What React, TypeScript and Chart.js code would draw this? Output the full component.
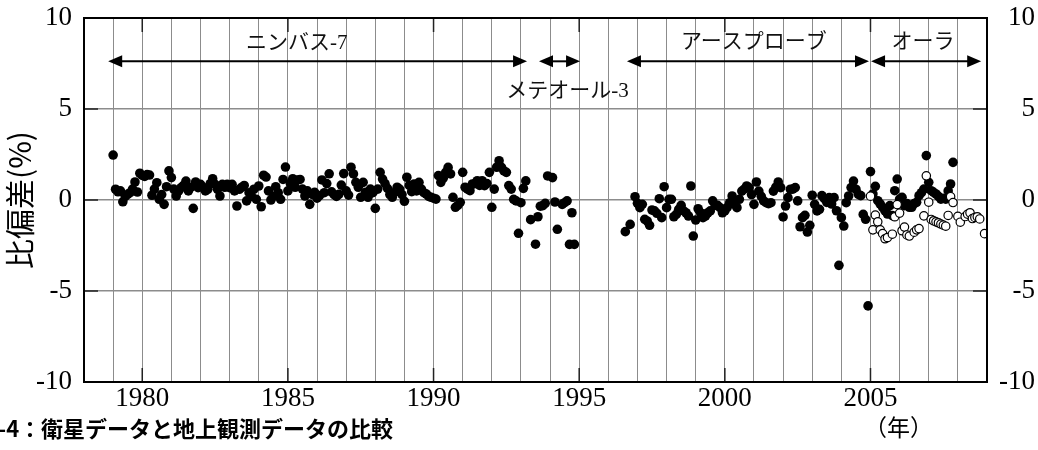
import React, { useEffect, useRef } from "react";
import { Chart, registerables } from "chart.js";

Chart.register(...registerables);

// ---- Data (monthly; null = no point) ----
const EARLY_START = 1979;
const filledEarly: (number | null)[] = [
  2.47, 0.59, 0.45, 0.5, -0.1, 0.2, 0.31, 0.4, 0.6, 0.99, 0.44, 1.47, // 1979
  1.35, 1.3, 1.4, 1.37, 0.26, 0.6, 0.95, 0.04, 0.3, -0.24, 0.73, 1.6, // 1980
  1.23, 0.6, 0.22, 0.5, 0.68, 0.8, 1.04, 0.5, 0.7, -0.46, 0.99, 0.68, // 1981
  0.86, 0.7, 0.5, 0.59, 0.9, 1.17, 0.86, 0.59, 0.22, 0.86, 0.7, 0.86, // 1982
  0.68, 0.86, 0.5, -0.33, 0.59, 0.7, 0.8, -0.05, 0.4, 0.2, 0.59, 0.04, // 1983
  0.77, -0.37, 1.36, 1.26, 0.5, 0, 0.2, 0.73, 0.4, 0.04, 1.13, 1.81, // 1984
  0.5, 0.9, 1.17, 0.7, 1.1, 1.13, 0.6, 0.22, 0.5, -0.24, 0.31, 0.42, // 1985
  0.1, 0.24, 1.1, 0.4, 0.9, 1.44, 0.45, 0.3, 0.2, 0.31, 0.82, 1.45, // 1986
  0.5, 0.27, 1.8, 1.43, 0.97, 0.7, 0.15, 0.97, 0.42, 0.15, 0.6, 0.4, // 1987
  -0.46, 0.6, 1.52, 1.15, 0.9, 0.64, 0.3, 0.15, 0.42, 0.7, 0.6, 0.3, // 1988
  -0.07, 1.25, 0.8, 0.46, 0.88, 0.5, 0.97, 0.6, 0.4, 0.33, 0.2, 0.15, // 1989
  0.1, 0.05, 1.34, 0.97, 1.2, 1.52, 1.79, 1.43, 0.15, -0.4, -0.3, -0.13, // 1990
  1.52, 0.7, 0.6, 0.51, 0.88, 0.9, 1.06, 0.8, 1.06, 0.79, 0.9, 1.52, // 1991
  -0.4, 0.6, 1.8, 2.16, 1.79, 1.6, 1.52, 0.79, 0.6, 0.04, -0.05, -1.83, // 1992
  -0.15, 0.64, 1.05, null, -1.08, null, -2.43, -0.92, -0.34, -0.31, -0.18, 1.32, // 1993
  null, 1.23, -0.11, -1.61, null, -0.24, -0.15, -0.05, -2.44, -0.7, -2.44, null, // 1994
];

const LATE_START = 1996;
const filledLate: (number | null)[] = [
  null, null, null, null, null, null, null, -1.74, null, -1.34, null, 0.18, // 1996
  -0.18, -0.42, -0.24, -1.06, -1.15, -1.39, -0.55, -0.6, -0.73, 0.07, -0.97, 0.73, // 1997
  -0.42, 0.04, 0.04, -0.92, -0.79, -0.51, -0.29, -0.6, -0.7, -0.88, 0.77, -1.98, // 1998
  -1.1, -0.48, -0.7, -0.97, -0.88, -0.7, -0.6, -0.05, -0.3, -0.29, -0.42, -0.7, // 1999
  -0.6, -0.4, -0.15, 0.22, -0.24, -0.42, 0.04, 0.49, 0.6, 0.77, 0.68, 0.3, // 2000
  -0.24, 0.99, 0.49, 0.2, -0.05, -0.15, -0.2, -0.15, 0.49, 0.7, 0.99, 0.68, // 2001
  -0.93, -0.33, 0.13, 0.59, 0.6, 0.68, -0.05, -1.47, -0.97, -0.84, -1.76, -1.39, // 2002
  0.26, -0.24, -0.6, -0.51, 0.24, 0.07, -0.13, 0.13, -0.22, 0.13, -0.59, -3.59, // 2003
  -0.97, -1.43, -0.15, 0.22, 0.68, 1.04, 0.59, 0.31, 0.24, -0.79, -1.06, -5.82, // 2004
  1.56, 0.33, 0.75, -0.04, -0.22, -0.4, -0.6, -0.77, -0.31, -0.86, 0.51, 1.15, // 2005
  0.05, 0.15, -0.31, -0.2, -0.4, -0.4, -0.2, -0.13, 0.24, 0.4, 0.6, 2.44, // 2006
  0.97, 0.51, 0.42, 0.33, 0.2, 0.05, 0.1, 0.05, 0.5, 0.88, 2.07, null, // 2007
];

const OPEN_START = 2005;
const openValues: (number | null)[] = [
  0.21, -1.64, -0.83, -1.2, -1.64, -1.85, -2.13, -2.06, null, -1.88, -0.92, -0.25, // 2005
  -0.72, -1.69, -1.49, -1.92, -1.98, null, -1.77, -1.64, -1.57, null, -0.87, 1.33, // 2006
  -0.12, -1.07, -1.14, -1.2, -1.25, -1.32, -1.38, -1.44, -0.85, 0.18, -0.14, null, // 2007
  -0.9, -1.22, null, -0.91, -0.78, -0.7, -1.02, -0.96, -0.92, -1.04, null, -1.85, // 2008
];

const xLabelYears = [1980, 1985, 1990, 1995, 2000, 2005];
const yMajor = [-5, 0, 5];

// satellite periods (years) and label anchors (year, value)
const satNames = ["ニンバス-7", "メテオール-3", "アースプローブ", "オーラ"];
const satFrom = [1978.83, 1993.62, 1996.64, 2005.02];
const satTo = [1993.21, 1995.03, 2004.95, 2008.8];
const satLabelX = [1985.3, 1994.6, 2001.0, 2006.8];
const satLabelY = [8.6, 5.95, 8.65, 8.65];
const ARROW_VALUE = 7.62;

function toPoints(start: number, values: (number | null)[]) {
  const pts: { x: number; y: number }[] = [];
  values.forEach((v, i) => {
    if (v !== null) pts.push({ x: start + i / 12, y: v });
  });
  return pts;
}

const overlayPlugin = {
  id: "overlay",
  afterDatasetsDraw(chart: any) {
    const { ctx, chartArea: a, scales } = chart;
    const xs = scales.x;
    const ys = scales.y;
    ctx.save();
    // inner major tick marks
    ctx.strokeStyle = "#222";
    ctx.lineWidth = 1.5;
    const tl = 14;
    xLabelYears.forEach((yr) => {
      const px = xs.getPixelForValue(yr);
      ctx.beginPath();
      ctx.moveTo(px, a.top);
      ctx.lineTo(px, a.top + tl);
      ctx.moveTo(px, a.bottom);
      ctx.lineTo(px, a.bottom - tl);
      ctx.stroke();
    });
    yMajor.forEach((v) => {
      const py = ys.getPixelForValue(v);
      ctx.beginPath();
      ctx.moveTo(a.left, py);
      ctx.lineTo(a.left + tl, py);
      ctx.moveTo(a.right, py);
      ctx.lineTo(a.right - tl, py);
      ctx.stroke();
    });
    // frame
    ctx.strokeStyle = "#000";
    ctx.lineWidth = 2;
    ctx.strokeRect(a.left, a.top, a.right - a.left, a.bottom - a.top);

    // arrows
    const py = ys.getPixelForValue(ARROW_VALUE);
    const head = 14;
    const half = 6;
    ctx.fillStyle = "#000";
    satNames.forEach((_, i) => {
      const x1 = xs.getPixelForValue(satFrom[i]);
      const x2 = xs.getPixelForValue(satTo[i]);
      ctx.beginPath();
      ctx.lineWidth = 2;
      ctx.moveTo(x1 + head - 1, py);
      ctx.lineTo(x2 - head + 1, py);
      ctx.stroke();
      ctx.beginPath();
      ctx.moveTo(x1, py);
      ctx.lineTo(x1 + head, py - half);
      ctx.lineTo(x1 + head, py + half);
      ctx.closePath();
      ctx.fill();
      ctx.beginPath();
      ctx.moveTo(x2, py);
      ctx.lineTo(x2 - head, py - half);
      ctx.lineTo(x2 - head, py + half);
      ctx.closePath();
      ctx.fill();
    });
    // labels
    ctx.font = '21px "Liberation Serif", "Noto Sans CJK JP"';
    ctx.fillStyle = "#111";
    ctx.textAlign = "center";
    ctx.textBaseline = "middle";
    satNames.forEach((name, i) => {
      ctx.fillText(name, xs.getPixelForValue(satLabelX[i]), ys.getPixelForValue(satLabelY[i]));
    });
    ctx.restore();
  },
};

const tickFont = { family: "'Liberation Serif', serif", size: 27 };
const gridGray = "#8c8c8c";

const noVerticalPadding = (s: any) => {
  s.paddingTop = 0;
  s.paddingBottom = 0;
};

export default function App() {
  const ref = useRef<HTMLCanvasElement | null>(null);

  useEffect(() => {
    if (!ref.current) return;
    const chart = new Chart(ref.current, {
      type: "scatter",
      data: {
        datasets: [
          {
            label: "open",
            data: toPoints(OPEN_START, openValues),
            pointRadius: 4.2,
            pointBackgroundColor: "#fff",
            pointBorderColor: "#000",
            pointBorderWidth: 1.2,
          },
          {
            label: "filled-late",
            data: toPoints(LATE_START, filledLate),
            pointRadius: 4.8,
            pointBackgroundColor: "#000",
            pointBorderColor: "#000",
            pointBorderWidth: 0,
          },
          {
            label: "filled-early",
            data: toPoints(EARLY_START, filledEarly),
            pointRadius: 4.8,
            pointBackgroundColor: "#000",
            pointBorderColor: "#000",
            pointBorderWidth: 0,
          },
        ],
      },
      options: {
        animation: false,
        responsive: false,
        devicePixelRatio: 1,
        layout: { padding: { top: 18, right: 3, left: 0, bottom: 0 } },
        plugins: { legend: { display: false }, tooltip: { enabled: false } },
        scales: {
          x: {
            type: "linear",
            min: 1978,
            max: 2009,
            ticks: {
              stepSize: 1,
              maxTicksLimit: 100,
              autoSkip: false,
              maxRotation: 0,
              minRotation: 0,
              padding: 1,
              font: tickFont,
              color: "#000",
              callback: (v: any) => (xLabelYears.includes(Number(v)) ? String(v) : ""),
            },
            grid: {
              drawTicks: false,
              lineWidth: 1,
              color: (c: any) =>
                c.tick && (c.tick.value === 1978 || c.tick.value === 2009) ? "rgba(0,0,0,0)" : gridGray,
            },
            border: { display: false },
            afterFit: (s: any) => {
              s.height = 68;
              s.paddingLeft = 0;
              s.paddingRight = 0;
            },
          },
          y: {
            type: "linear",
            position: "left",
            min: -10,
            max: 10,
            ticks: {
              stepSize: 5,
              padding: 12,
              font: tickFont,
              color: "#000",
              callback: (v: any) => String(v),
            },
            grid: {
              drawTicks: false,
              lineWidth: 1.5,
              color: (c: any) => (c.tick && Math.abs(c.tick.value) === 10 ? "rgba(0,0,0,0)" : gridGray),
            },
            border: { display: false },
            title: {
              display: true,
              text: "比偏差(%)",
              color: "#000",
              font: { family: "'Noto Sans CJK JP', sans-serif", size: 30 },
              padding: { top: 2, bottom: 0 },
            },
            afterFit: (s: any) => {
              s.width = 84;
              noVerticalPadding(s);
            },
          },
          y2: {
            type: "linear",
            position: "right",
            min: -10,
            max: 10,
            ticks: {
              stepSize: 5,
              padding: 12,
              crossAlign: "far",
              font: tickFont,
              color: "#000",
              callback: (v: any) => String(v),
            },
            grid: { display: false },
            border: { display: false },
            afterFit: (s: any) => {
              s.width = 48;
              noVerticalPadding(s);
            },
          },
        },
      } as any,
      plugins: [overlayPlugin],
    });
    return () => chart.destroy();
  }, []);

  return (
    <div style={{ position: "absolute", left: 0, top: 0, width: 1038, height: 450, background: "#fff", overflow: "hidden" }}>
      <canvas ref={ref} width={1038} height={450} style={{ display: "block" }} />
      <div
        style={{
          position: "absolute",
          left: -2,
          top: 413,
          fontFamily: "'Noto Sans CJK JP', sans-serif",
          fontWeight: 700,
          fontSize: 22,
          lineHeight: "28px",
          whiteSpace: "nowrap",
          color: "#000",
        }}
      >
        -4：衛星データと地上観測データの比較
      </div>
      <div
        style={{
          position: "absolute",
          left: 864,
          top: 411,
          fontFamily: "'Noto Sans CJK JP', sans-serif",
          fontSize: 23,
          lineHeight: "30px",
          whiteSpace: "nowrap",
          color: "#000",
        }}
      >
        （年）
      </div>
    </div>
  );
}
